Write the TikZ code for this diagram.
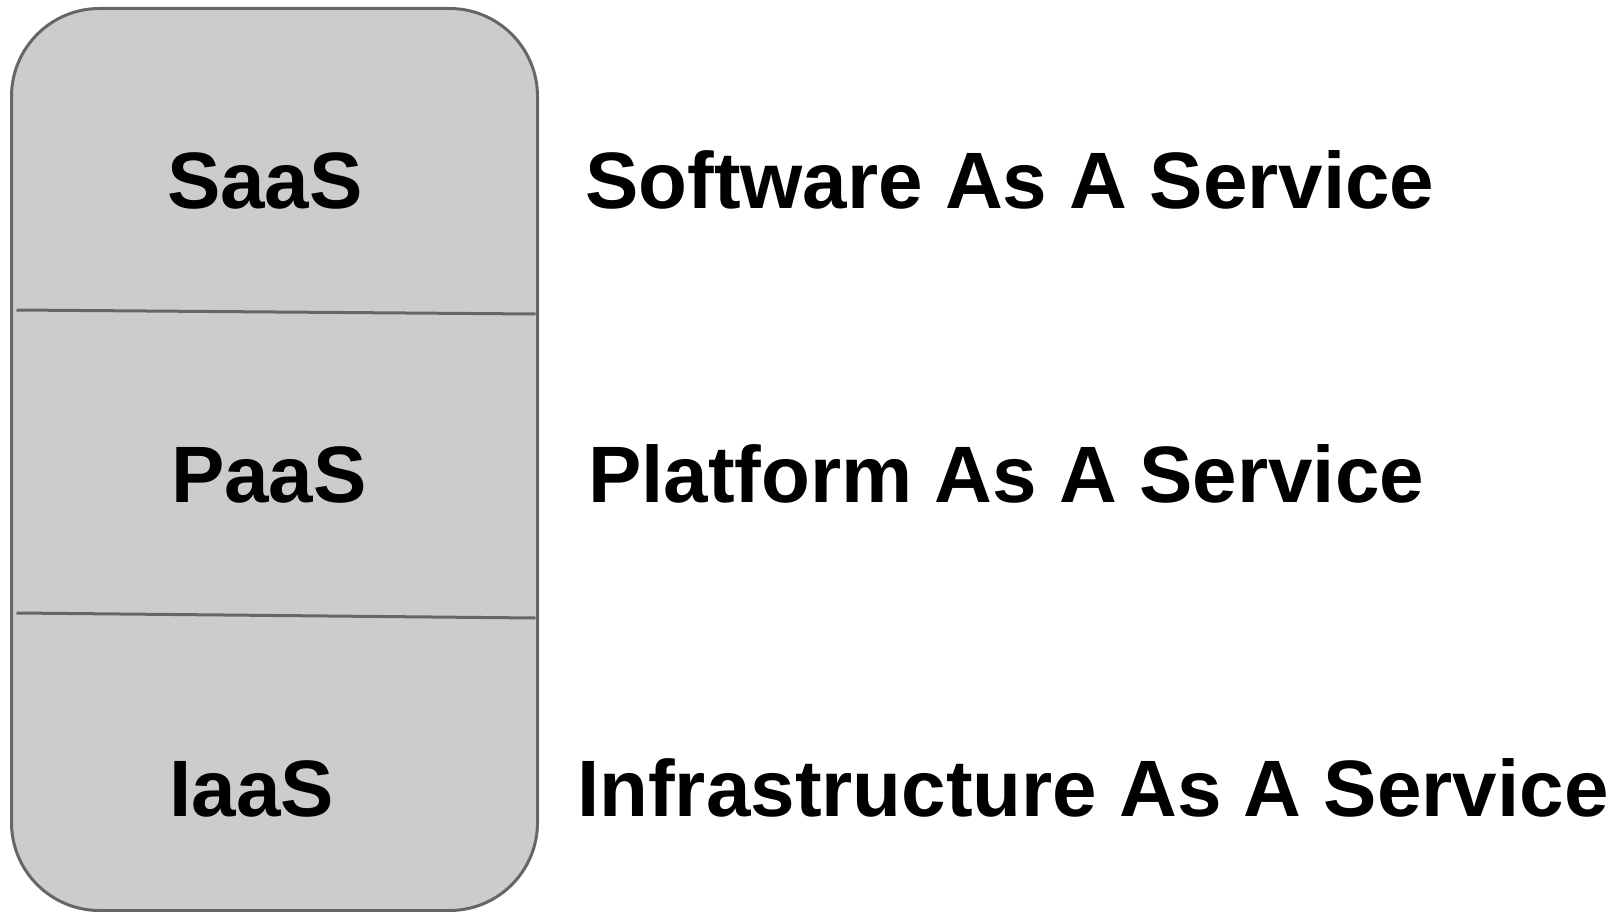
\documentclass[tikz,border=0pt]{standalone}
\usepackage{fontspec}
\setmainfont{Liberation Sans}
\tikzset{
  stack/.style={draw=strokegray, fill=fillgray, line width=3pt, rounded corners=88pt, inner sep=0pt},
  divider/.style={draw=strokegray, line width=3pt},
  lbl/.style={font=\fontsize{80}{96}\selectfont\bfseries, inner sep=0pt, anchor=base},
  desc/.style={font=\fontsize{80}{96}\selectfont\bfseries, inner sep=0pt, anchor=base west}
}
\definecolor{strokegray}{HTML}{666666}
\definecolor{fillgray}{HTML}{CCCCCC}
\begin{document}
\begin{tikzpicture}[x=1pt,y=-1pt]
\useasboundingbox (0,0) rectangle (1621,912);
\node[stack, minimum width=526pt, minimum height=902pt] (box) at (274.5,459.5) {};
\coordinate (d1l) at (16.5,310);
\coordinate (d1r) at (535.5,314);
\coordinate (d2l) at (16.5,613);
\coordinate (d2r) at (535.5,618);
\draw[divider] (d1l) -- (d1r);
\draw[divider] (d2l) -- (d2r);
\node[lbl] (saas) at (265,208) {SaaS};
\node[lbl] (paas) at (269,502) {PaaS};
\node[lbl] (iaas) at (252,816) {IaaS};
\node[desc] (sw) at (585,208) {Software As A Service};
\node[desc] (pf) at (588,502) {Platform As A Service};
\node[desc] (inf) at (577,816) {Infrastructure As A Service};
\end{tikzpicture}
\end{document}
